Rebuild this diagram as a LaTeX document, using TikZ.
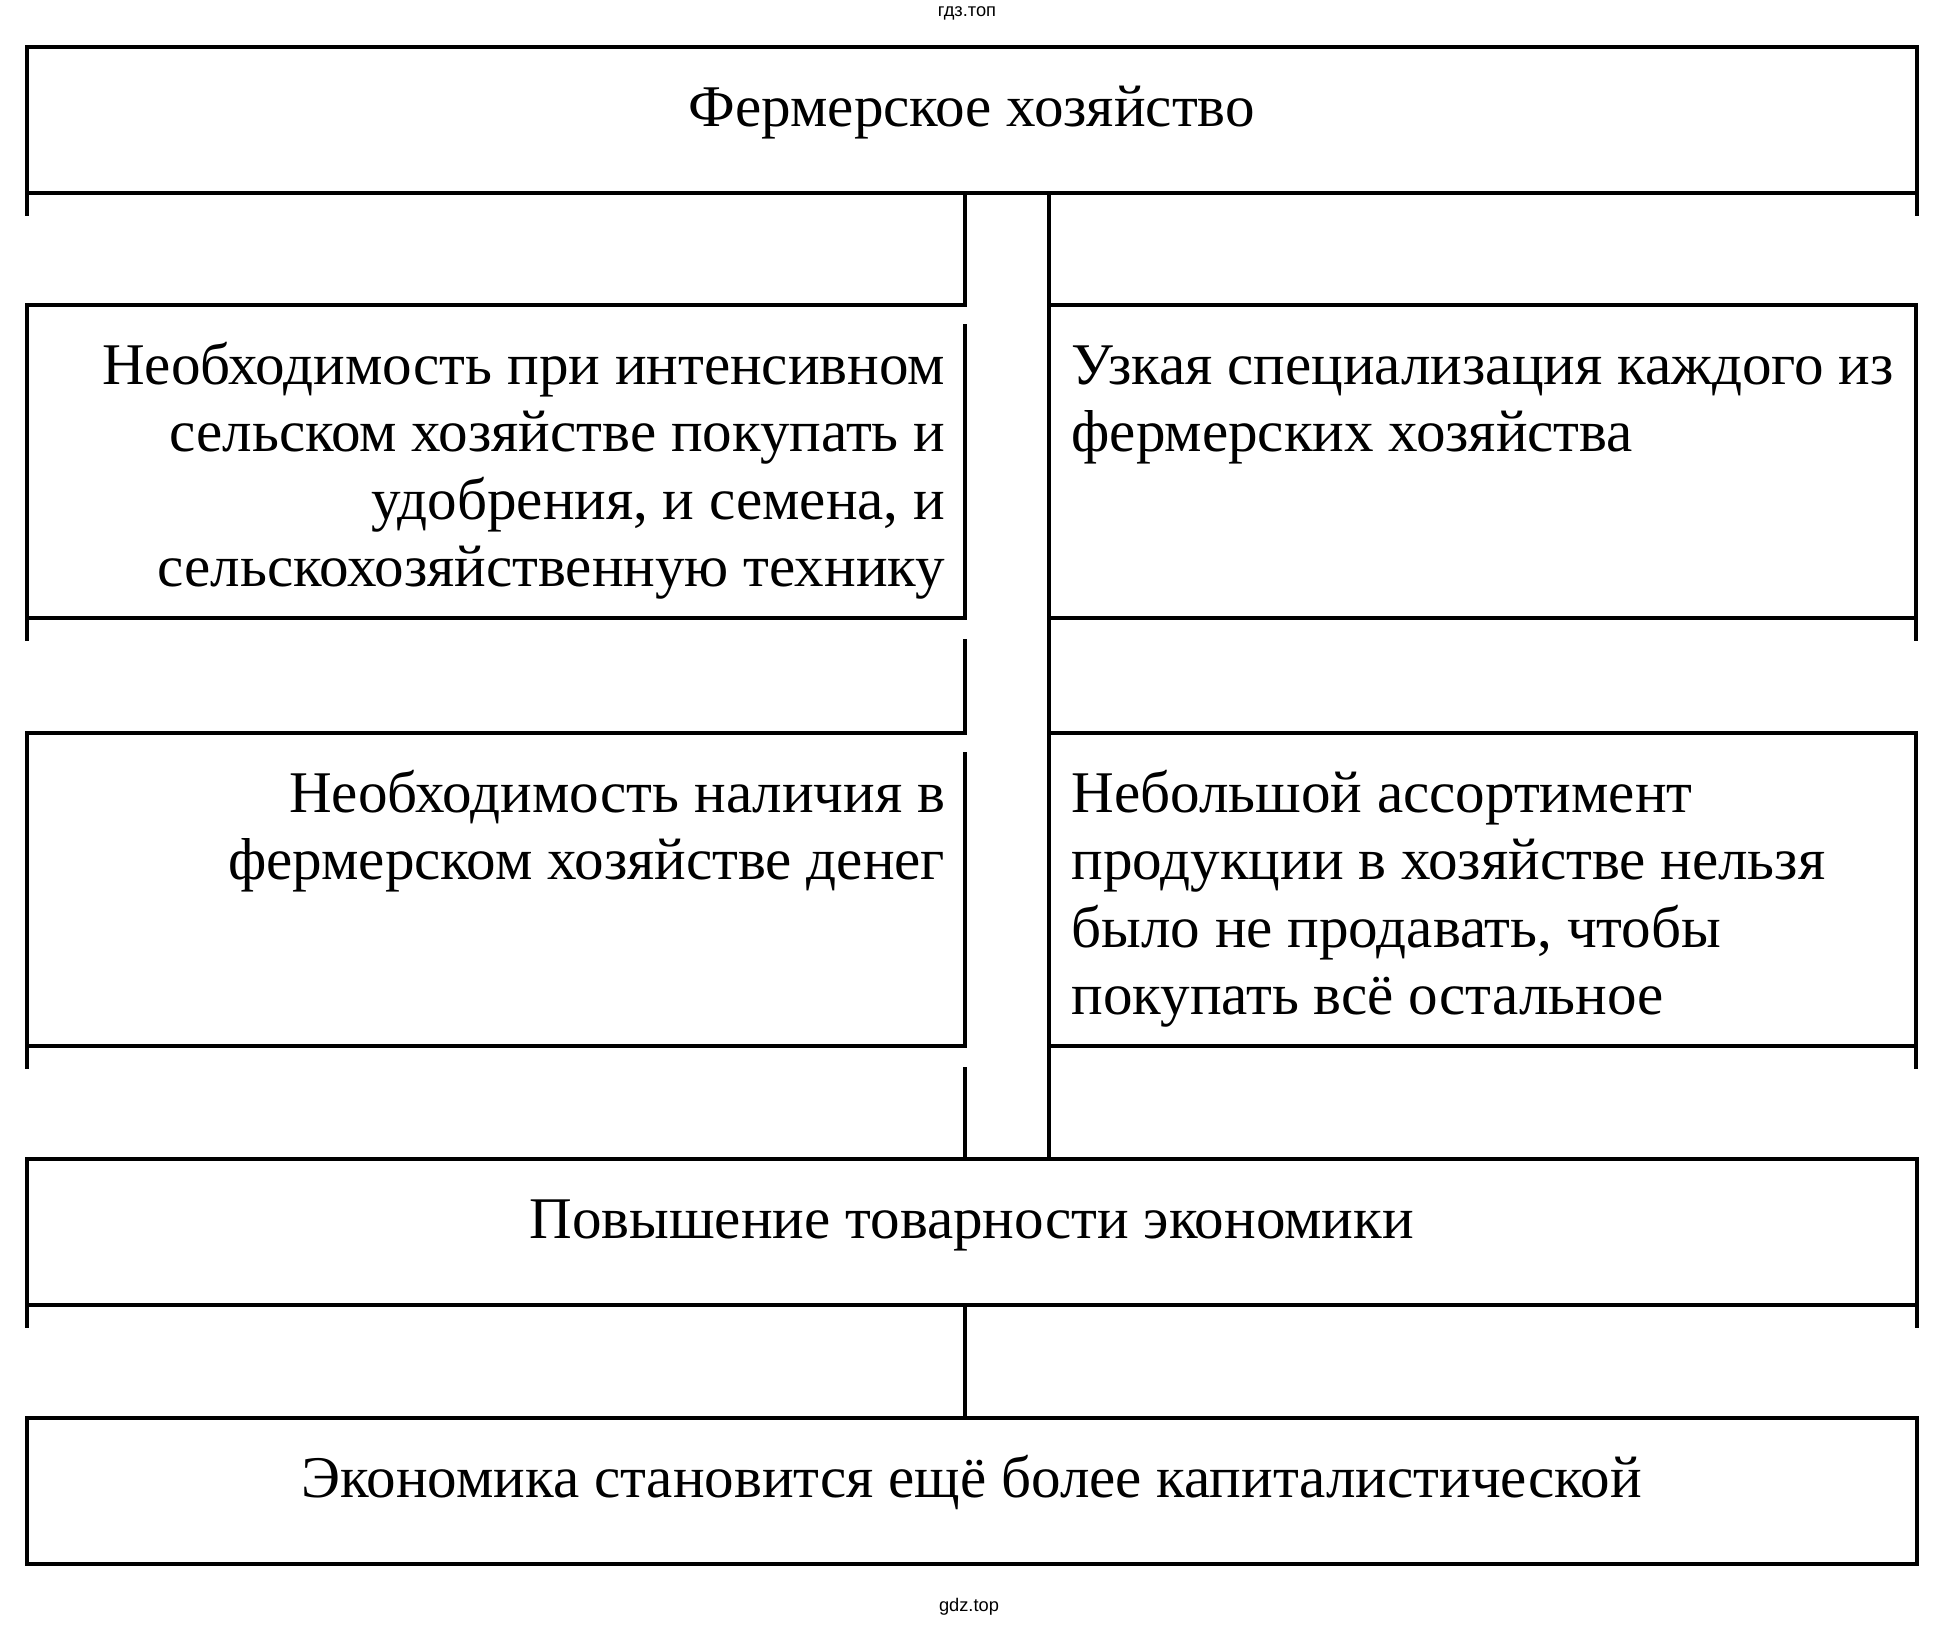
\documentclass[tikz,border=0pt]{standalone}
\usepackage{fontspec}
\setmainfont{Liberation Serif}
\newfontfamily\wmfont{Liberation Sans}
\newcommand{\cellfont}{\fontsize{16.8}{19.2}\selectfont}

\begin{document}
\begin{tikzpicture}[x=0.01cm, y=-0.01cm, line width=1.1pt,
    rule/.style={draw, line cap=rect},
    cell/.style={inner sep=0, outer sep=0, anchor=north west},
    hrules/.style={append after command={
        (\tikzlastnode.north west) edge[rule] (\tikzlastnode.north east)
        (\tikzlastnode.south west) edge[rule] (\tikzlastnode.south east)}},
    lside/.style={append after command={
        (\tikzlastnode.north west) edge[rule] ([yshift=-#1]\tikzlastnode.south west)}},
    lside/.default=0.21cm,
    rside/.style={append after command={
        (\tikzlastnode.north east) edge[rule] ([yshift=-#1]\tikzlastnode.south east)}},
    rside/.default=0.21cm,
    rgap/.style={append after command={
        ([yshift=-0.21cm]\tikzlastnode.north east) edge[rule] (\tikzlastnode.south east)}},
    txt/.style={inner sep=0, font=\cellfont},
    wm/.style={inner sep=0, font=\wmfont\fontsize{5.2}{6}\selectfont}]
\useasboundingbox (0,0) rectangle (1939,1627);
\node[wm] (wmtop) at (967,13) {гдз.топ};
\node[wm] (wmbot) at (969,1607) {gdz.top};
% boxes
\node[cell, hrules, lside, rside, minimum width=18.885cm, minimum height=1.46cm] (farm) at (27,47) {};
\node[cell, hrules, lside, rgap, minimum width=9.375cm, minimum height=3.13cm] (needL) at (27,305) {};
\node[cell, hrules, rside, minimum width=8.67cm, minimum height=3.13cm] (specR) at (1048.6,305) {};
\node[cell, hrules, lside, rgap, minimum width=9.375cm, minimum height=3.13cm] (moneyL) at (27,733) {};
\node[cell, hrules, rside, minimum width=8.67cm, minimum height=3.13cm] (assortR) at (1048.6,733) {};
\node[cell, hrules, lside, rside, minimum width=18.885cm, minimum height=1.46cm] (growth) at (27,1159) {};
\node[cell, hrules, lside=0pt, rside=0pt, minimum width=18.885cm, minimum height=1.46cm] (capital) at (27,1418) {};
% texts
\node[txt, anchor=north] (tfarm) at ([yshift=-0.3cm]farm.north) {\strut Фермерское хозяйство};
\node[txt, anchor=north east, align=right] (tneed) at ([xshift=-0.18cm,yshift=-0.3cm]needL.north east)
    {\strut Необходимость при интенсивном\\сельском хозяйстве покупать и\\удобрения, и семена, и\\сельскохозяйственную технику};
\node[txt, anchor=north west, align=left] (tspec) at ([xshift=0.21cm,yshift=-0.3cm]specR.north west)
    {\strut Узкая специализация каждого из\\фермерских хозяйства};
\node[txt, anchor=north east, align=right] (tmoney) at ([xshift=-0.18cm,yshift=-0.3cm]moneyL.north east)
    {\strut Необходимость наличия в\\фермерском хозяйстве денег};
\node[txt, anchor=north west, align=left] (tassort) at ([xshift=0.21cm,yshift=-0.3cm]assortR.north west)
    {\strut Небольшой ассортимент\\продукции в хозяйстве нельзя\\было не продавать, чтобы\\покупать всё остальное};
\node[txt, anchor=north] (tgrowth) at ([yshift=-0.3cm]growth.north) {\strut Повышение товарности экономики};
\node[txt, anchor=north] (tcapital) at ([yshift=-0.3cm]capital.north) {\strut Экономика становится ещё более капиталистической};
% links
\draw (farm.south -| needL.east) -- (needL.north east);
\draw (farm.south -| specR.west) -- (growth.north -| specR.west);
\draw ([yshift=-0.21cm]needL.south east) -- (moneyL.north east);
\draw ([yshift=-0.21cm]moneyL.south east) -- (growth.north -| moneyL.east);
\draw (growth.south -| needL.east) -- (capital.north -| needL.east);
\end{tikzpicture}
\end{document}
